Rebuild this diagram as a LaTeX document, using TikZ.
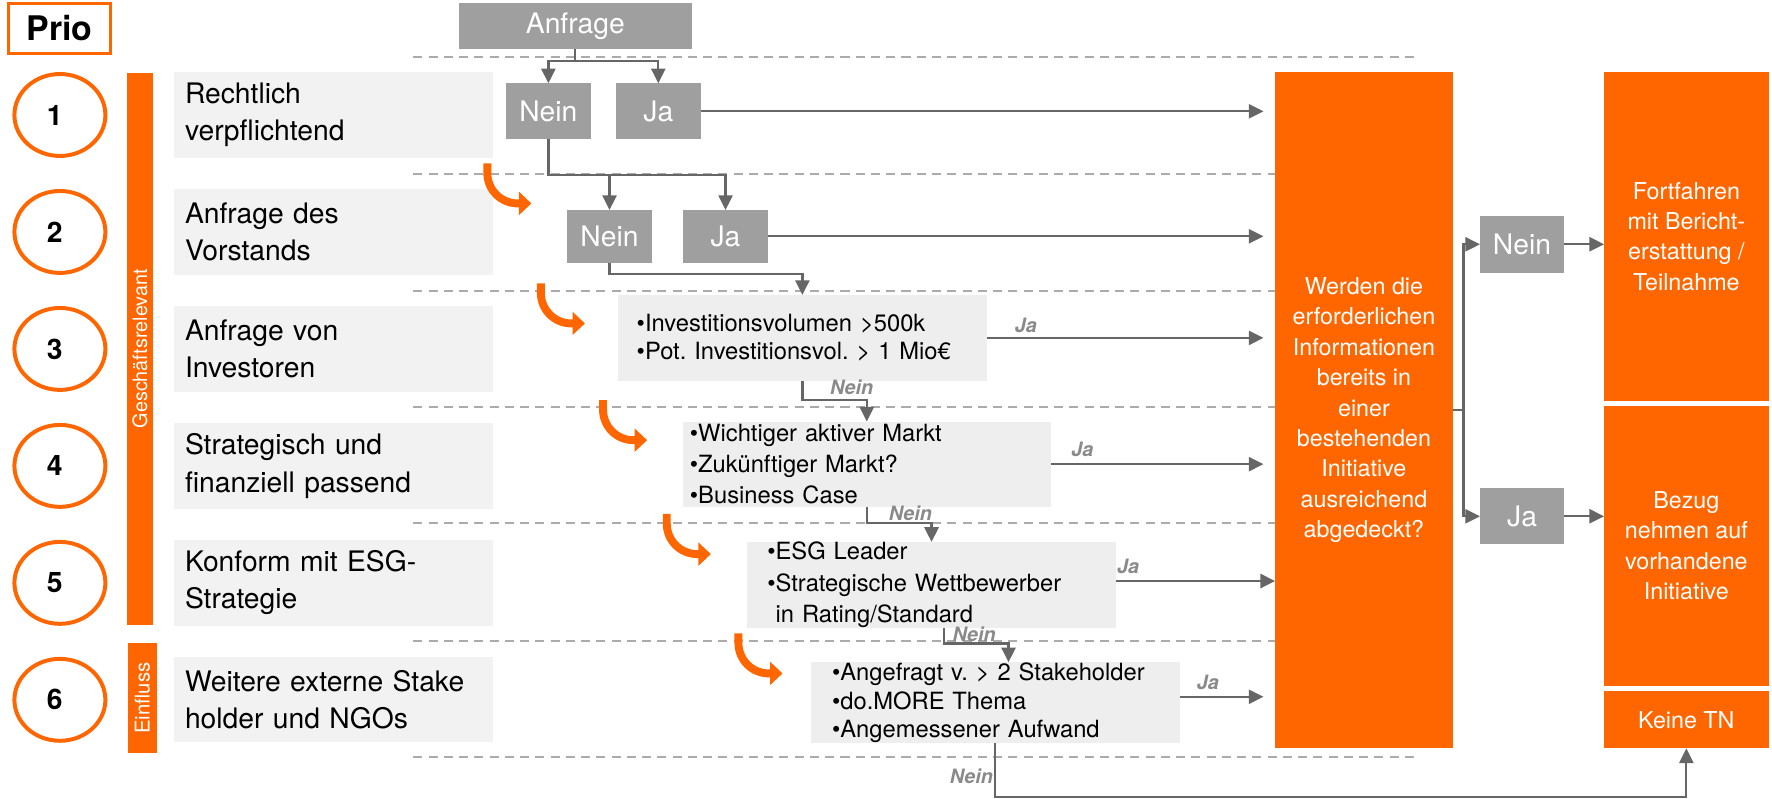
\documentclass[tikz,border=0pt]{standalone}
\usepackage{fontspec}
\setmainfont{TeX Gyre Heros}
\usetikzlibrary{arrows.meta,shapes.geometric}
\definecolor{org}{HTML}{FF6600}
\definecolor{gfill}{HTML}{9F9F9F}
\definecolor{lfill}{HTML}{F2F2F2}
\definecolor{cfill}{HTML}{EEEEEE}
\definecolor{lnc}{HTML}{666666}
\definecolor{dsh}{HTML}{ABABAB}
\definecolor{lblc}{HTML}{8A8A8A}
\newcommand{\myfs}[2]{\fontsize{#1}{#2}\selectfont}
\frenchspacing
\begin{document}
\begin{tikzpicture}[x=1pt,y=-1pt,
  every node/.style={inner sep=0pt, outer sep=0pt},
  dashline/.style={dsh, line width=1.6pt, dash pattern=on 8pt off 5.5pt},
  gbox/.style={fill=gfill, text=white, font=\myfs{25}{30}},
  lbl/.style={fill=lfill, minimum width=282.5, minimum height=75.5, text width=263.1, inner xsep=9.7pt, align=left, font=\myfs{25}{33}},
  numc/.style={ellipse, draw=org, line width=3.5pt, minimum width=80.5, minimum height=72.5, font=\myfs{25}{25}\bfseries},
  cbox/.style={fill=cfill, align=left, font=\myfs{21}{#1}\frenchspacing},
  obox/.style={fill=org, text=white, align=center, font=\myfs{20.6}{26.9}},
  conn/.style={lnc, line width=2pt},
  arr/.style={conn, -{Triangle[length=13pt,width=12.5pt]}},
  jn/.style={text=lblc, font=\myfs{17.5}{20}\bfseries\itshape},
  curv/.style={org, line width=7pt, -{Triangle[length=11pt,width=20pt]}},
]
\useasboundingbox (0,0) rectangle (1568,707);

% dashed separators
\foreach \yy in {50.7,154,257.3,360.4,463,567.2,670.1}
  \draw[dashline] (365.7,\yy) -- (1252,\yy);

% Prio
\node[draw=org, line width=3pt, minimum width=90.5, minimum height=44.2, font=\myfs{30}{30}\bfseries] (prio) at (52.75,25.1) {Prio};

% circles
\node[numc] (c1) at (53,101.75) {\hspace*{-9pt}1};
\node[numc] (c2) at (53,205.25) {\hspace*{-9pt}2};
\node[numc] (c3) at (53,308.75) {\hspace*{-9pt}3};
\node[numc] (c4) at (53,412.25) {\hspace*{-9pt}4};
\node[numc] (c5) at (53,515.75) {\hspace*{-9pt}5};
\node[numc] (c6) at (53,619.25) {\hspace*{-9pt}6};

% side bars
\node[fill=org, rotate=90, minimum width=488.5, minimum height=22.5, text=white, font=\myfs{17.5}{17.5}] (gbar) at (123.9,308.55) {Geschäftsrelevant};
\node[fill=org, rotate=90, minimum width=96.7, minimum height=26, text=white, font=\myfs{18}{18}] (ebar) at (126,617.65) {Einfluss};

% label boxes
\node[lbl] (l1) at (295.25,101.75) {Rechtlich\\verpflichtend};
\node[lbl] (l2) at (295.25,205.25) {Anfrage des\\Vorstands};
\node[lbl] (l3) at (295.25,308.75) {Anfrage von\\Investoren};
\node[lbl] (l4) at (295.25,412.25) {Strategisch und\\finanziell passend};
\node[lbl] (l5) at (295.25,515.75) {Konform mit ESG-\\Strategie};
\node[lbl] (l6) at (295.25,619.25) {Weitere externe Stake\\holder und NGOs};

% gray decision boxes
\node[gbox, minimum width=205.8, minimum height=40.7] (anf) at (509.1,23.35) {Anfrage};
\node[gbox, minimum width=74.9, minimum height=49.6] (n1) at (485.25,98.5) {Nein};
\node[gbox, minimum width=75, minimum height=49.6] (j1) at (582.5,98.5) {Ja};
\node[gbox, minimum width=74.7, minimum height=46.6] (n2) at (539.35,209.1) {Nein};
\node[gbox, minimum width=74.6, minimum height=46.6] (j2) at (642,209.1) {Ja};
\node[gbox, minimum width=74.4, minimum height=50.3] (rn) at (1346.8,216.15) {Nein};
\node[gbox, minimum width=74.4, minimum height=49.7] (rj) at (1346.8,456.85) {Ja};

% content boxes
\node[cbox=24.6, minimum height=76, text width=293.2, inner xsep=16.4pt] (b3) at (710,299)
  {•Investitionsvolumen >500k\\•Pot. Investitionsvol. > 1 Mio€};
\node[cbox=27.7, minimum height=75.4, text width=313, inner xsep=6.5pt] (b4) at (767,410.7)
  {•Wichtiger aktiver Markt\\•Zukünftiger Markt?\\•Business Case};
\node[cbox=28, minimum height=74.9, text width=290.6, inner xsep=17.6pt] (b5) at (824.3,517.65)
  {•ESG Leader\\•Strategische Wettbewerber\\\phantom{•}in Rating/Standard};
\node[cbox=25.4, minimum height=71.7, text width=288.8, inner xsep=18.6pt] (b6) at (880.7,621.85)
  {•Angefragt v. > 2 Stakeholder\\•do.MORE Thema\\•Angemessener Aufwand};

% orange boxes
\node[obox, minimum width=157.2, minimum height=598.5] (big) at (1206.9,362.95)
  {Werden die\\erforderlichen\\Informationen\\bereits in\\einer\\bestehenden\\Initiative\\ausreichend\\abgedeckt?};
\node[obox, minimum width=145.6, minimum height=290.8] (fort) at (1492.2,209.1)
  {Fortfahren\\mit Bericht-\\erstattung /\\Teilnahme};
\node[obox, minimum width=145.6, minimum height=247.4] (bez) at (1492.2,483)
  {Bezug\\nehmen auf\\vorhandene\\Initiative};
\node[obox, minimum width=145.6, minimum height=50.7] (keine) at (1492.2,636.85) {Keine TN};

\coordinate (tgt) at (1118,0);

% connectors
\draw[arr] (anf.south) -- ++(0,10.3) -| (n1.north);
\draw[arr] (anf.south) -- ++(0,10.3) -| (j1.north);
\draw[arr] (j1.east) -- (j1.east -| tgt);
\draw[arr] (n1.south) -- ++(0,31.6) -| (n2.north);
\draw[arr] (n1.south) -- ++(0,31.6) -| (j2.north);
\draw[arr] (j2.east) -- (j2.east -| tgt);
\draw[arr] (n2.south) -- ++(0,10.1) -| (b3.north);
\draw[arr] (b3.east) -- (b3.east -| tgt);
\draw[arr] (b3.south) -- ++(0,17) -| (b4.north);
\draw[arr] (b4.east) -- (b4.east -| tgt);
\draw[arr] (b4.south) -- ++(0,14.6) -| (b5.north);
\draw[arr] ([yshift=3.5pt]b5.east) -- ([yshift=3.5pt]b5.east -| big.west);
\draw[arr] ([xshift=10.7pt]b5.south) -- ++(0,13.6) -| ([xshift=11.7pt]b6.north);
\draw[arr] ([yshift=5.3pt]b6.east) -- ([yshift=5.3pt]b6.east -| tgt);
\draw[arr] (b6.south) -- ++(0,47.8) -| (keine.south);

\draw[conn] (big.east) -- ++(9.5,0) coordinate (split);
\draw[arr] (split) |- (rn.west);
\draw[arr] (split) |- (rj.west);
\draw[arr] (rn.east) -- (rn.east -| fort.west);
\draw[arr] (rj.east) -- (rj.east -| bez.west);

% Ja / Nein labels
\node[jn, anchor=base west] (ja3) at (898,294.5) {Ja};
\node[jn, anchor=base west] (ja4) at (948,404) {Ja};
\node[jn, anchor=base west] (ja5) at (988.4,507.4) {Ja};
\node[jn, anchor=base west] (ja6) at (1059,610) {Ja};
\node[jn, anchor=base west] (ne3) at (734.5,349.5) {Nein};
\node[jn, anchor=base west] (ne4) at (786.5,460.2) {Nein};
\node[jn, anchor=base west] (ne5) at (843,567.8) {Nein};
\node[jn, anchor=base east] (ne6) at (878.6,693.2) {Nein};

% orange curved arrows
\draw[curv] (431.2,144.5) -- ++(0,8.5) .. controls +(0,15) and +(-15,0) .. ++(27,27) -- ++(12,0);
\draw[curv] (478.6,250.7) -- ++(0,8.5) .. controls +(0,15) and +(-15,0) .. ++(27,27) -- ++(12,0);
\draw[curv] (533.6,354) -- ++(0,8.5) .. controls +(0,15) and +(-15,0) .. ++(27,27) -- ++(12,0);
\draw[curv] (590,454.8) -- ++(0,8.5) .. controls +(0,15) and +(-15,0) .. ++(27,27) -- ++(12,0);
\draw[curv] (653.4,560.4) -- ++(0,8.5) .. controls +(0,15) and +(-15,0) .. ++(27,27) -- ++(12,0);
\end{tikzpicture}
\end{document}
